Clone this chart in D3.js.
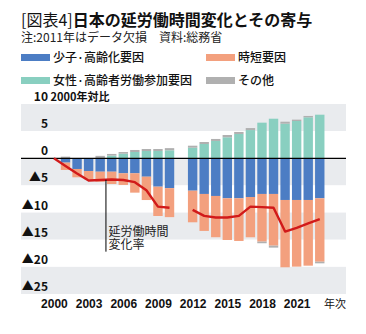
<!DOCTYPE html>
<html>
<head>
<meta charset="utf-8">
<script src="https://cdn.jsdelivr.net/npm/d3@7"></script>
<style>
  body { margin: 0; background: #fff; }
  svg { display: block; font-family: "Noto Sans CJK JP", "Noto Sans", sans-serif; }
</style>
</head>
<body>
<svg id="chart" width="366" height="334"></svg>
<script>
// Contributions to the change in total hours worked (vs. 2000, %)
const barYears = [2001, 2002, 2003, 2004, 2005, 2006, 2007, 2008, 2009, 2010,
                  2012, 2013, 2014, 2015, 2016, 2017, 2018, 2019, 2020, 2021, 2022, 2023];
const aging         = [-0.8, -1.97, -2.34, -2.47, -2.47, -2.76, -2.76, -3.39, -5.23, -5.5,
                       -5.97, -6.57, -6.94, -7.37, -7.37, -7.13, -6.57, -6.57, -7.68, -7.68, -7.68, -7.37];
const shorterHours  = [-1.35, -1.53, -1.53, -1.84, -2.27, -2.15, -3.57, -4.3, -5.4, -5.34,
                       -5.82, -6.81, -7.6, -7.68, -7.86, -7.42, -8.78, -9.52, -12.4, -12.28, -12.1, -11.68];
const participation = [0, 0, 0, 0, 0.5, 0.85, 1.16, 1.34, 1.34, 1.47,
                       1.95, 2.63, 3.19, 3.87, 4.48, 5.2, 6.56, 7.29, 6.37, 6.87, 7.55, 8.03];
const otherFactors  = [0.3, 0, 0, 0.45, 0.3, 0.3, 0.37, 0.37, 0.37, 0.4,
                       0.37, 0.37, 0.37, 0.42, 0.37, 0.37, -0.3, -0.37, 0.37, 0.25, 0.25, -0.3];

// Total hours worked, change vs. 2000 (2011 missing)
const lineYears  = [2000, 2001, 2002, 2003, 2004, 2005, 2006, 2007, 2008, 2009, 2010, 2011,
                    2012, 2013, 2014, 2015, 2016, 2017, 2018, 2019, 2020, 2021, 2022, 2023];
const lineValues = [0, -1.4, -2.8, -4.1, -4.0, -3.9, -4.0, -4.4, -5.9, -8.9, -9.1, null,
                    -9.5, -10.6, -10.9, -10.9, -10.6, -8.9, -9.0, -9.1, -13.5, -12.8, -12.0, -11.2];

const yTicks      = [10, 5, 0, -5, -10, -15, -20, -25];
const yTickLabels = ["10", "5", "0", "▲5", "▲10", "▲15", "▲20", "▲25"];
const xTicks      = [2000, 2003, 2006, 2009, 2012, 2015, 2018, 2021];

const seriesKeys   = ["aging", "hours", "participation", "other"];
const seriesNames  = ["少子·高齢化要因", "時短要因", "女性·高齢者労働参加要因", "その他"];
const seriesColors = ["#4c7dc4", "#f3a07e", "#89cfc0", "#b0b0b0"];

const svg = d3.select("#chart");
const x = d3.scaleLinear().domain([1997.15, 2025.27]).range([21, 346]);
const y = d3.scaleLinear().domain([-25, 10]).range([294, 104]);
const barW = 9.4;

// Title, notes
svg.append("text").attr("x", 21).attr("y", 26).attr("font-size", 16).attr("fill", "#111")
  .call(t => {
    t.append("tspan").text("[図表4]");
    t.append("tspan").attr("font-weight", "bold").text("日本の延労働時間変化とその寄与");
  });
svg.append("text").attr("x", 21).attr("y", 41.5).attr("font-size", 12).attr("fill", "#222")
  .text("注:2011年はデータ欠損　資料:総務省");

// Legend
const legendPos = [[21, 57.5], [206, 57.5], [21, 80.5], [206, 80.5]];
const legendOrder = [0, 1, 2, 3];
legendOrder.forEach((k, i) => {
  const [lx, ly] = legendPos[i];
  svg.append("rect").attr("x", lx).attr("y", ly - 3.5).attr("width", 29).attr("height", 7)
    .attr("fill", seriesColors[k]);
  svg.append("text").attr("x", lx + 32).attr("y", ly + 4.5).attr("font-size", 12)
    .attr("font-weight", 500).attr("fill", "#111").text(seriesNames[k]);
});

// Alternating background bands
const bands = d3.pairs(yTicks);
svg.append("g").selectAll("rect").data(bands).join("rect")
  .attr("x", x.range()[0]).attr("width", x.range()[1] - x.range()[0])
  .attr("y", d => y(d[0])).attr("height", d => y(d[1]) - y(d[0]))
  .attr("fill", (d, i) => i % 2 === 0 ? "#e9ebee" : "#fff");

// Stacked bars
const table = barYears.map((yr, i) => ({
  year: yr, aging: aging[i], hours: shorterHours[i],
  participation: participation[i], other: otherFactors[i]
}));
const stacked = d3.stack().keys(seriesKeys).offset(d3.stackOffsetDiverging)(table);
svg.append("g").selectAll("g").data(stacked).join("g")
  .attr("fill", (d, i) => seriesColors[i])
  .selectAll("rect").data(d => d).join("rect")
  .attr("x", d => x(d.data.year) - barW / 2).attr("width", barW)
  .attr("y", d => y(Math.max(d[0], d[1])))
  .attr("height", d => Math.abs(y(d[0]) - y(d[1])));

// Zero line
svg.append("line").attr("x1", x.range()[0]).attr("x2", x.range()[1])
  .attr("y1", y(0)).attr("y2", y(0)).attr("stroke", "#000").attr("stroke-width", 1.2);

// Total hours line
const linePts = lineYears.map((yr, i) => ({ year: yr, v: lineValues[i] }));
svg.append("path").datum(linePts)
  .attr("fill", "none").attr("stroke", "#d11a1a").attr("stroke-width", 2.4)
  .attr("stroke-linejoin", "round")
  .attr("d", d3.line().defined(d => d.v !== null).x(d => x(d.year)).y(d => y(d.v)));

// Callout for the line
const calloutYear = 2004.5;
const calloutV = (lineValues[4] + lineValues[5]) / 2;
svg.append("line").attr("x1", x(calloutYear)).attr("x2", x(calloutYear))
  .attr("y1", y(calloutV)).attr("y2", y(-17.2)).attr("stroke", "#000").attr("stroke-width", 1);
svg.append("text").attr("x", x(calloutYear) + 2.5).attr("y", y(-14.3)).attr("font-size", 12)
  .attr("fill", "#222")
  .call(t => {
    t.append("tspan").text("延労働時間");
    t.append("tspan").attr("x", x(calloutYear) + 2.5).attr("dy", 13.5).text("変化率");
  });

// Y axis labels
svg.append("g").selectAll("text").data(yTicks).join("text")
  .attr("x", 48).attr("y", d => y(d) - 3).attr("text-anchor", "end")
  .attr("font-size", 12).attr("font-weight", "bold").attr("fill", "#111")
  .text((d, i) => yTickLabels[i]);
svg.append("text").attr("x", 50.5).attr("y", y(10) - 3).attr("font-size", 11)
  .attr("font-weight", "bold").attr("fill", "#111").text("2000年対比");

// X axis labels
const xAxis = d3.axisBottom(x).tickValues(xTicks).tickFormat(d3.format("d")).tickSize(0).tickPadding(0);
const gx = svg.append("g").attr("transform", `translate(0,${y(-25)})`).call(xAxis);
gx.select(".domain").remove();
gx.selectAll("text").attr("font-size", 12).attr("font-weight", "bold").attr("fill", "#111")
  .attr("font-family", null).attr("dy", null).attr("y", 14);
svg.append("text").attr("x", x.range()[1] - 11).attr("y", y(-25) + 14).attr("text-anchor", "middle")
  .attr("font-size", 11).attr("fill", "#111").text("年次");
</script>
</body>
</html>
